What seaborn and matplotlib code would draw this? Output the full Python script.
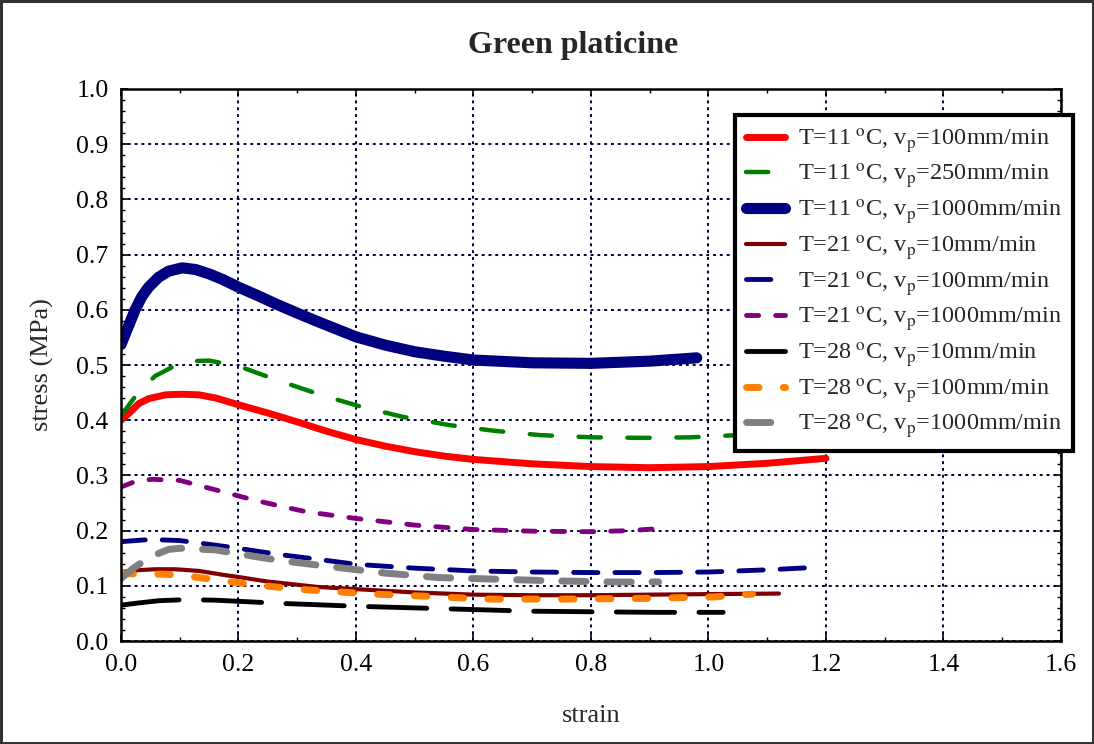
import numpy as np
import pandas as pd
import matplotlib
matplotlib.use("Agg")
import matplotlib.pyplot as plt
from matplotlib.ticker import MultipleLocator, FormatStrFormatter
import seaborn as sns

# ---- data ----
labels = [
    "T=11$\\;^{\\mathrm{o}}$C, v$_{\\mathrm{p}}$=100mm/min",
    "T=11$\\;^{\\mathrm{o}}$C, v$_{\\mathrm{p}}$=250mm/min",
    "T=11$\\;^{\\mathrm{o}}$C, v$_{\\mathrm{p}}$=1000mm/min",
    "T=21$\\;^{\\mathrm{o}}$C, v$_{\\mathrm{p}}$=10mm/min",
    "T=21$\\;^{\\mathrm{o}}$C, v$_{\\mathrm{p}}$=100mm/min",
    "T=21$\\;^{\\mathrm{o}}$C, v$_{\\mathrm{p}}$=1000mm/min",
    "T=28$\\;^{\\mathrm{o}}$C, v$_{\\mathrm{p}}$=10mm/min",
    "T=28$\\;^{\\mathrm{o}}$C, v$_{\\mathrm{p}}$=100mm/min",
    "T=28$\\;^{\\mathrm{o}}$C, v$_{\\mathrm{p}}$=1000mm/min",
]

x_t11_100 = [0.0, 0.013, 0.03, 0.047, 0.076, 0.104, 0.133, 0.162, 0.2, 0.25, 0.3, 0.35, 0.4, 0.45, 0.5, 0.55, 0.6, 0.7, 0.8, 0.9, 1.0, 1.1, 1.2]
y_t11_100 = [0.400, 0.412, 0.430, 0.439, 0.446, 0.447, 0.446, 0.440, 0.428, 0.413, 0.397, 0.380, 0.365, 0.353, 0.343, 0.335, 0.329, 0.321, 0.316, 0.314, 0.316, 0.322, 0.331]

x_t11_250 = [0.0, 0.027, 0.058, 0.096, 0.12, 0.15, 0.2, 0.27, 0.34, 0.41, 0.48, 0.56, 0.634, 0.713, 0.8, 0.888, 0.97, 1.03, 1.1]
y_t11_250 = [0.408, 0.447, 0.480, 0.501, 0.507, 0.508, 0.498, 0.471, 0.446, 0.424, 0.406, 0.391, 0.381, 0.373, 0.369, 0.368, 0.369, 0.372, 0.375]

x_t11_1000 = [0.0, 0.0126, 0.024, 0.0355, 0.047, 0.064, 0.081, 0.104, 0.127, 0.15, 0.173, 0.2, 0.23, 0.265, 0.3, 0.334, 0.4, 0.45, 0.5, 0.55, 0.6, 0.7, 0.8, 0.9, 0.98]
y_t11_1000 = [0.537, 0.570, 0.600, 0.624, 0.641, 0.659, 0.670, 0.676, 0.673, 0.665, 0.655, 0.641, 0.627, 0.610, 0.594, 0.579, 0.551, 0.536, 0.524, 0.516, 0.509, 0.504, 0.503, 0.507, 0.513]

x_t21_10 = [0.0, 0.024, 0.058, 0.093, 0.133, 0.173, 0.2, 0.248, 0.3, 0.334, 0.4, 0.5, 0.6, 0.7, 0.8, 0.9, 1.0, 1.12]
y_t21_10 = [0.125, 0.128, 0.130, 0.130, 0.127, 0.120, 0.116, 0.108, 0.102, 0.098, 0.094, 0.088, 0.084, 0.083, 0.083, 0.084, 0.085, 0.086]

x_t21_100 = [0.0, 0.05, 0.1, 0.144, 0.2, 0.236, 0.282, 0.328, 0.4, 0.5, 0.6, 0.7, 0.8, 0.9, 1.0, 1.1, 1.175]
y_t21_100 = [0.180, 0.184, 0.182, 0.176, 0.168, 0.162, 0.155, 0.149, 0.139, 0.132, 0.127, 0.125, 0.124, 0.124, 0.125, 0.129, 0.133]

x_t21_1000 = [0.0, 0.024, 0.053, 0.1, 0.139, 0.185, 0.228, 0.273, 0.316, 0.4, 0.5, 0.6, 0.7, 0.8, 0.866, 0.92]
y_t21_1000 = [0.279, 0.289, 0.293, 0.291, 0.280, 0.267, 0.255, 0.244, 0.234, 0.222, 0.210, 0.202, 0.199, 0.198, 0.200, 0.204]

x_t28_10 = [0.0, 0.03, 0.064, 0.11, 0.16, 0.219, 0.276, 0.328, 0.4, 0.5, 0.6, 0.7, 0.8, 0.906, 1.025]
y_t28_10 = [0.065, 0.069, 0.073, 0.075, 0.074, 0.071, 0.068, 0.066, 0.063, 0.060, 0.057, 0.054, 0.053, 0.052, 0.052]

x_t28_100 = [0.0, 0.076, 0.133, 0.196, 0.253, 0.313, 0.37, 0.43, 0.5, 0.56, 0.627, 0.753, 0.883, 1.01, 1.075]
y_t28_100 = [0.122, 0.121, 0.115, 0.106, 0.099, 0.093, 0.089, 0.085, 0.082, 0.079, 0.076, 0.076, 0.077, 0.080, 0.085]

x_t28_1000 = [0.0, 0.021, 0.038, 0.06, 0.081, 0.1, 0.162, 0.2, 0.27, 0.355, 0.45, 0.54, 0.64, 0.739, 0.832, 0.915]
y_t28_1000 = [0.113, 0.132, 0.144, 0.157, 0.166, 0.168, 0.165, 0.158, 0.146, 0.135, 0.123, 0.115, 0.112, 0.109, 0.107, 0.107]

xs = [x_t11_100, x_t11_250, x_t11_1000, x_t21_10, x_t21_100, x_t21_1000, x_t28_10, x_t28_100, x_t28_1000]
ys = [y_t11_100, y_t11_250, y_t11_1000, y_t21_10, y_t21_100, y_t21_1000, y_t28_10, y_t28_100, y_t28_1000]

colors = ["#ff0000", "#008000", "#000080", "#800000", "#000080", "#800080", "#000000", "#ff8000", "#808080"]
widths = [5.0, 3.2, 8.0, 3.0, 3.5, 3.5, 3.5, 5.0, 5.0]
styles = ["-", (0, (5, 6)), "-", "-", (0, (5, 3.5)), (0, (2.5, 3.5)), (0, (12, 5)), (0, (1.8, 3.5)), (0, (3.5, 3))]

# ---- figure ----
sns.set_theme(style="white")
plt.rcParams["font.family"] = ["Liberation Serif", "DejaVu Serif"]
plt.rcParams["mathtext.fontset"] = "stix"

fig = plt.figure(figsize=(10.94, 7.44), dpi=100)
fig.patch.set_facecolor("white")
fig.patch.set_edgecolor("#333333")
fig.patch.set_linewidth(2.5)
ax = fig.add_axes([0.1106, 0.1384, 0.8592, 0.742])

for i in range(len(labels)):
    df = pd.DataFrame({"strain": xs[i], "stress": ys[i]})
    sns.lineplot(data=df, x="strain", y="stress", ax=ax, color=colors[i],
                 linewidth=widths[i], linestyle=styles[i], label=labels[i],
                 solid_capstyle="round", dash_capstyle="round",
                 solid_joinstyle="round", sort=False)

ax.set_xlim(0, 1.6)
ax.set_ylim(0, 1.0)
ax.xaxis.set_major_locator(MultipleLocator(0.2))
ax.xaxis.set_minor_locator(MultipleLocator(0.1))
ax.yaxis.set_major_locator(MultipleLocator(0.1))
ax.yaxis.set_minor_locator(MultipleLocator(0.02))
ax.xaxis.set_major_formatter(FormatStrFormatter("%.1f"))
ax.yaxis.set_major_formatter(FormatStrFormatter("%.1f"))
ax.tick_params(which="both", direction="in", top=True, right=True, bottom=True, left=True,
               colors="black", labelsize=18.5)
ax.tick_params(which="major", length=5, width=1.2, pad=9)
ax.tick_params(which="minor", length=3, width=1.0)
ax.grid(True, which="major", color="#000040", linestyle=(0, (1.5, 2.0)), linewidth=1.4)
ax.set_axisbelow(True)
for s in ax.spines.values():
    s.set_color("black")
    s.set_linewidth(1.8)

ax.set_xlabel("strain", fontsize=19, labelpad=21)
ax.set_ylabel("stress (MPa)", fontsize=19, labelpad=16)
ax.set_title("Green platicine", fontsize=23, fontweight="bold", pad=26, x=0.481)

leg = ax.legend(loc="upper left", bbox_to_anchor=(0.653, 0.953), fontsize=17.5,
                frameon=True, fancybox=False, framealpha=1.0, edgecolor="black",
                handlelength=1.6, labelspacing=0.28, borderpad=0.45, handletextpad=0.55,
                borderaxespad=0.0)
leg.get_frame().set_linewidth(3)

fig.savefig("out.png", dpi=100)
